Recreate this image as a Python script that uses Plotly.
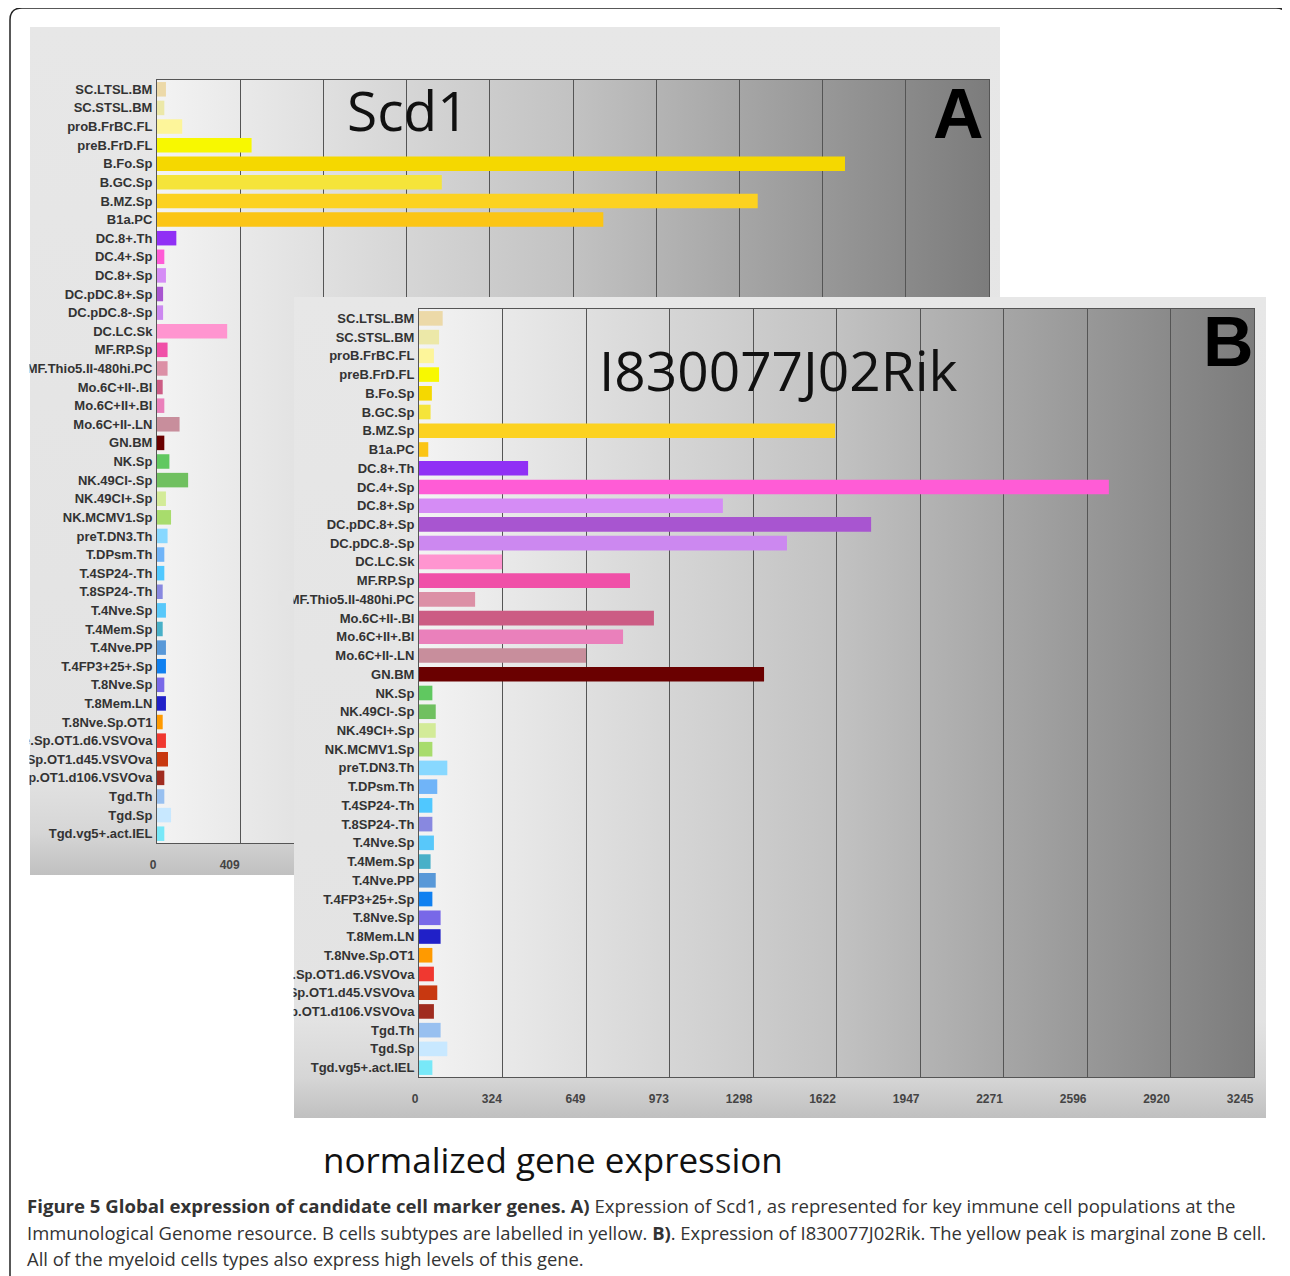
import plotly.graph_objects as go

# the page body adds an 8 px margin, so the figure is drawn 8 px smaller and
# reference pixel positions are shifted by that offset
OFF = 8
W, H = 1290 - OFF, 1276 - OFF

# ---------------- data ----------------
categories = [
    "SC.LTSL.BM", "SC.STSL.BM", "proB.FrBC.FL", "preB.FrD.FL", "B.Fo.Sp", "B.GC.Sp",
    "B.MZ.Sp", "B1a.PC", "DC.8+.Th", "DC.4+.Sp", "DC.8+.Sp", "DC.pDC.8+.Sp",
    "DC.pDC.8-.Sp", "DC.LC.Sk", "MF.RP.Sp", "MF.Thio5.II-480hi.PC", "Mo.6C+II-.Bl",
    "Mo.6C+II+.Bl", "Mo.6C+II-.LN", "GN.BM", "NK.Sp", "NK.49CI-.Sp", "NK.49CI+.Sp",
    "NK.MCMV1.Sp", "preT.DN3.Th", "T.DPsm.Th", "T.4SP24-.Th", "T.8SP24-.Th",
    "T.4Nve.Sp", "T.4Mem.Sp", "T.4Nve.PP", "T.4FP3+25+.Sp", "T.8Nve.Sp", "T.8Mem.LN",
    "T.8Nve.Sp.OT1", "T.8Nve.Sp.OT1.d6.VSVOva", "T.8Nve.Sp.OT1.d45.VSVOva",
    "T.8Nve.Sp.OT1.d106.VSVOva", "Tgd.Th", "Tgd.Sp", "Tgd.vg5+.act.IEL",
]

bar_colors = [
    "#ecd9a8", "#ece8a8", "#fdf59a", "#f8f800", "#f5d800", "#f5e43a",
    "#fcd220", "#fbc515", "#9030f5", "#ff5cd6", "#d58cf5", "#a855d0",
    "#cc88f0", "#ff95d0", "#f050a8", "#dc90a6", "#cc5c84",
    "#ea80bb", "#c88e9c", "#6a0000", "#60c860", "#70c060", "#d3eb98",
    "#a8dc6c", "#88d8ff", "#70b4f8", "#50c8ff", "#8888e0",
    "#58c8fa", "#48b0c8", "#5898d8", "#1080f0", "#7868e8", "#2020c8",
    "#ff9a00", "#f03830", "#c83810",
    "#a02c20", "#98c0f0", "#c8e8ff", "#78e8f8",
]

scd1_values = [
    44, 36, 124, 465, 3382, 1400, 2953, 2194, 95, 36, 44, 30,
    30, 345, 52, 52, 28, 36, 111, 36, 61, 153, 44,
    69, 52, 36, 36, 28, 44, 28, 44, 44, 36, 44,
    28, 44, 54, 36, 36, 69, 36,
]

rik_values = [
    92, 78, 58, 78, 50, 45, 1617, 36, 424, 2681, 1181, 1757,
    1430, 323, 820, 218, 913, 793, 649, 1341, 52, 65, 65,
    52, 110, 71, 52, 52, 58, 45, 65, 52, 84, 84,
    52, 58, 71, 58, 84, 110, 52,
]

scd1_ticks = [0, 409, 818, 1227, 1636, 2045, 2454, 2863, 3272, 3681, 4090]
rik_ticks = [0, 324, 649, 973, 1298, 1622, 1947, 2271, 2596, 2920, 3245]

# ---------------- layout boxes (reference pixels: x0, y0, x1, y1) ----------------
PANEL_A = (30, 27, 1000, 875)
PLOT_A = (157, 80, 989, 843)
PANEL_B = (294, 297, 1266, 1118)
PLOT_B = (419, 309, 1254, 1077)

PLOT_GRAD = [[0, "#f3f3f3"], [0.5, "#c2c2c2"], [1, "#7c7c7c"]]
PANEL_GRAD = [[0, "#c0c0c0"], [0.05, "#d6d6d6"], [0.12, "#e3e3e3"], [1, "#e7e7e7"]]


def px(x):
    return (x - OFF) / W


def py(y):
    return 1 - (y - OFF) / H


def xdom(box):
    return [px(box[0]), px(box[2])]


def ydom(box):
    return [py(box[3]), py(box[1])]


def grad_rect(box, xa, ya, gtype, cs):
    x0, y0, x1, y1 = box
    Y0, Y1 = 2000 - y1, 2000 - y0
    return go.Scatter(
        x=[x0, x1, x1, x0, x0], y=[Y0, Y0, Y1, Y1, Y0],
        mode="lines", fill="toself", line=dict(width=0, color="rgba(0,0,0,0)"),
        fillgradient=dict(type=gtype, colorscale=cs),
        xaxis=xa, yaxis=ya, hoverinfo="skip", showlegend=False,
    )


def interp_grad(cs, t):
    for (a, ca), (b, cb) in zip(cs[:-1], cs[1:]):
        if a <= t <= b:
            f = (t - a) / (b - a) if b > a else 0
            va = int(ca[1:3], 16)
            vb = int(cb[1:3], 16)
            v = round(va + (vb - va) * f)
            return "#%02x%02x%02x" % (v, v, v)
    return cs[-1][1]


fig = go.Figure()

# background panel A (subplot x/y)
fig.add_trace(grad_rect(PANEL_A, "x", "y", "vertical", PANEL_GRAD))
fig.add_trace(grad_rect(PLOT_A, "x", "y", "horizontal", PLOT_GRAD))
# bars A
fig.add_trace(go.Bar(
    x=scd1_values, y=categories, orientation="h",
    marker=dict(color=bar_colors, line=dict(width=0)),
    xaxis="x2", yaxis="y2", showlegend=False, hoverinfo="x+y",
))
# background panel B (subplot x3/y3)
fig.add_trace(grad_rect(PANEL_B, "x3", "y3", "vertical", PANEL_GRAD))
fig.add_trace(grad_rect(PLOT_B, "x3", "y3", "horizontal", PLOT_GRAD))
# bars B
fig.add_trace(go.Bar(
    x=rik_values, y=categories, orientation="h",
    marker=dict(color=bar_colors, line=dict(width=0)),
    xaxis="x4", yaxis="y4", showlegend=False, hoverinfo="x+y",
))

ytick_font = dict(family="Liberation Sans, Arial, sans-serif", size=13, color="#333333", weight="bold")
xtick_font = dict(family="Liberation Sans Narrow, Liberation Sans, sans-serif", size=12, color="#444444", weight="bold")


def bg_axes(box):
    x0, y0, x1, y1 = box
    xa = dict(domain=xdom(box), range=[x0, x1], visible=False, fixedrange=True, automargin=False)
    ya = dict(domain=ydom(box), range=[2000 - y1, 2000 - y0], visible=False, fixedrange=True,
              automargin=False)
    return xa, ya


def data_axes(box, ticks, yanchor, xanchor):
    xa = dict(
        domain=xdom(box), range=[ticks[0], ticks[-1]], anchor=yanchor,
        tickvals=ticks, ticktext=[str(t) for t in ticks],
        showgrid=True, gridcolor="#555555", gridwidth=1,
        showline=True, mirror=True, linecolor="#555555", linewidth=1,
        zeroline=False, ticks="", tickfont=xtick_font, automargin=False,
        ticklabelposition="outside left", ticklabelstandoff=11, fixedrange=True,
    )
    ya = dict(
        domain=ydom(box), type="category", categoryorder="array",
        categoryarray=categories, autorange="reversed", anchor=xanchor,
        showgrid=False, showline=True, mirror=True, linecolor="#555555",
        linewidth=1, ticks="", tickfont=ytick_font, ticklabelstandoff=1,
        fixedrange=True, automargin=False,
    )
    return xa, ya


xa1, ya1 = bg_axes(PANEL_A)
xa2, ya2 = data_axes(PLOT_A, scd1_ticks, "y2", "x2")
xa3, ya3 = bg_axes(PANEL_B)
xa4, ya4 = data_axes(PLOT_B, rik_ticks, "y4", "x4")
ya1["anchor"] = "x"
xa1["anchor"] = "y"
xa3["anchor"] = "y3"
ya3["anchor"] = "x3"


def ann(text, x, y, size, family, color="#111111", weight="normal", xanchor="center", yanchor="middle"):
    return dict(
        text=text, x=px(x), y=py(y), xref="paper", yref="paper",
        xanchor=xanchor, yanchor=yanchor, showarrow=False,
        font=dict(size=size, family=family, color=color, weight=weight),
    )


big = "Open Sans, Noto Sans, sans-serif"
arial = "Liberation Sans, Arial, sans-serif"
annotations = [
    ann("Scd1", 408, 110, 55, big, "#111111"),
    ann("A", 958, 114, 70, arial, "#000000", "bold"),
    ann("I830077J02Rik", 778, 369, 55, big, "#111111"),
    ann("B", 1228, 342, 70, arial, "#000000", "bold"),
    ann("normalized gene expression", 553, 1159, 35, big, "#111111"),
    ann("<b>Figure 5 Global expression of candidate cell marker genes. A)</b> Expression of Scd1, "
        "as represented for key immune cell populations at the", 25, 1205, 18.6, big, "#333333",
        xanchor="left"),
    ann("Immunological Genome resource. B cells subtypes are labelled in yellow. <b>B)</b>. "
        "Expression of I830077J02Rik. The yellow peak is marginal zone B cell.", 25, 1232, 18.4,
        big, "#333333", xanchor="left"),
    ann("All of the myeloid cells types also express high levels of this gene.", 25, 1258, 18.4,
        big, "#333333", xanchor="left"),
]


def prect(x0, y0, x1, y1, color):
    return dict(type="rect", xref="paper", yref="paper", x0=px(x0), x1=px(x1),
                y0=py(y1), y1=py(y0), fillcolor=color, line=dict(width=0), layer="above")


# clip overflowing tick labels at the panel edges
mf_cover = interp_grad(PLOT_GRAD, (286 - PLOT_A[0]) / (PLOT_A[2] - PLOT_A[0]))
shapes = [
    prect(-60, 20, PANEL_A[0] - 0.5, PANEL_A[3], "#ffffff"),
    prect(-60, PANEL_A[3] + 0.5, PANEL_B[0] - 0.5, PANEL_B[3], "#ffffff"),
    prect(278, 591, PANEL_B[0] - 0.5, 605, mf_cover),
]
r = 12
frame = (
    f"M {px(10)},{py(1300)} L {px(10)},{py(8 + r)} "
    f"Q {px(10)},{py(8)} {px(10 + r)},{py(8)} "
    f"L {px(1288 - r)},{py(8)} Q {px(1288)},{py(8)} {px(1288)},{py(8 + r)} "
    f"L {px(1288)},{py(1300)}"
)
shapes.append(dict(type="path", path=frame, xref="paper", yref="paper",
                   line=dict(color="#222222", width=1.5), layer="above"))

fig.update_layout(
    width=W, height=H, margin=dict(l=0, r=0, t=0, b=0, autoexpand=False),
    paper_bgcolor="#ffffff", plot_bgcolor="rgba(0,0,0,0)",
    bargap=0.22, showlegend=False,
    xaxis=xa1, yaxis=ya1, xaxis2=xa2, yaxis2=ya2,
    xaxis3=xa3, yaxis3=ya3, xaxis4=xa4, yaxis4=ya4,
    annotations=annotations, shapes=shapes,
)

fig.write_html("out.html")
